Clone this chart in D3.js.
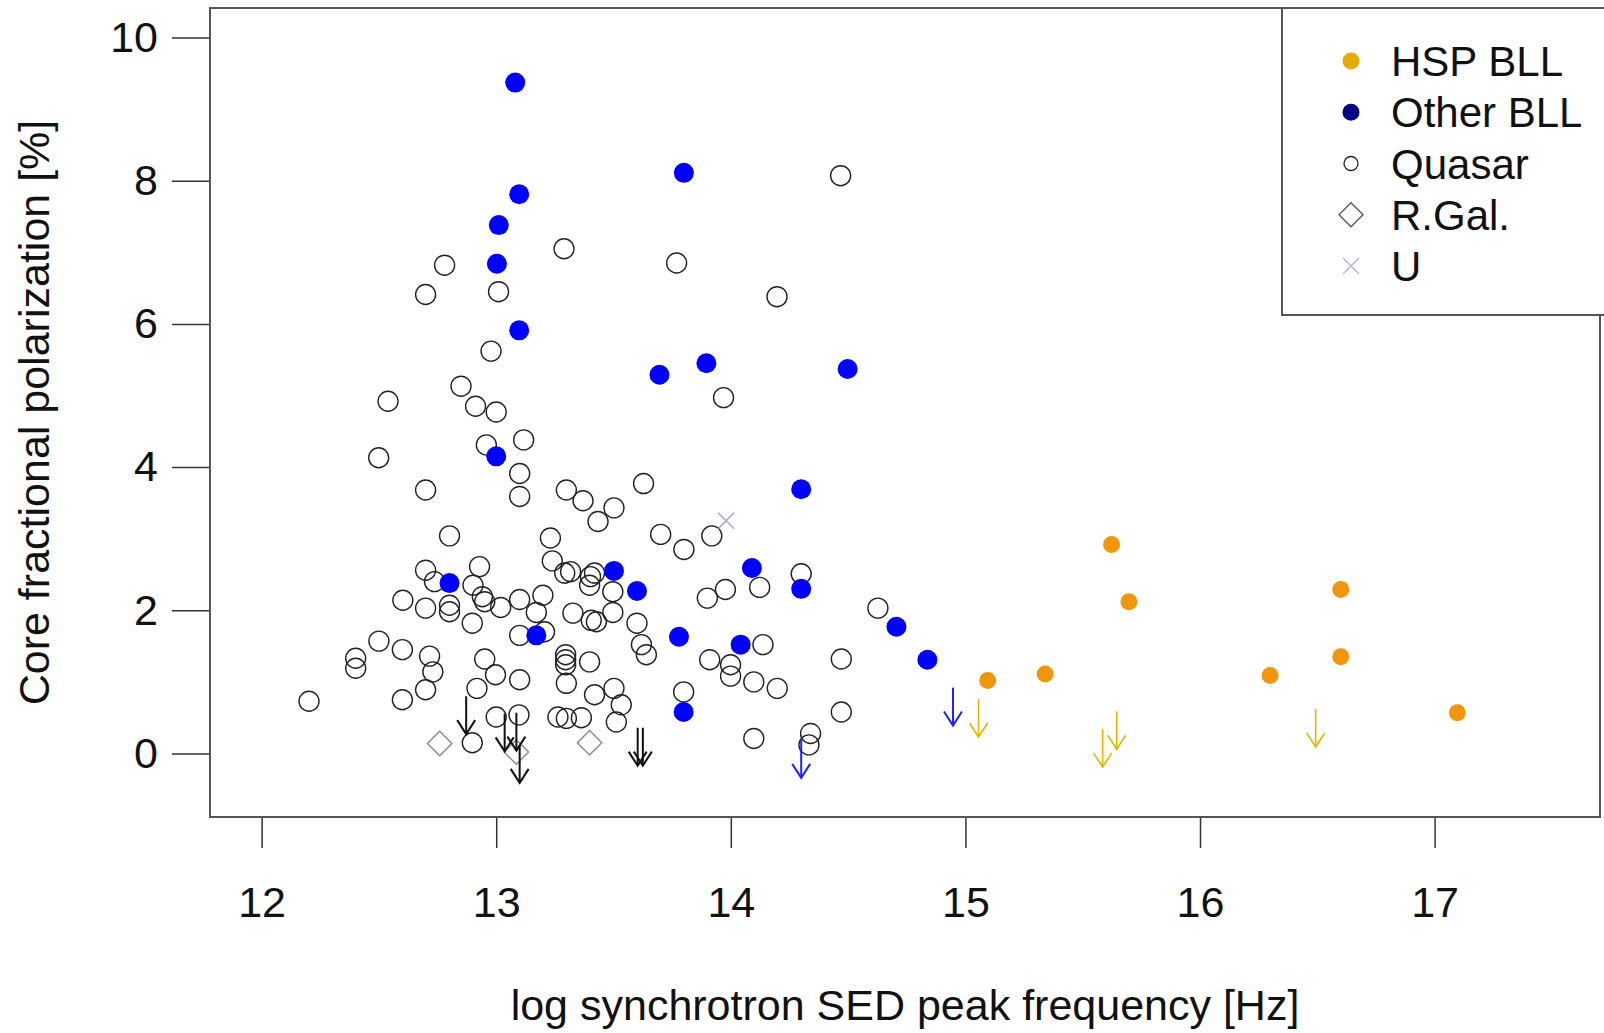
<!DOCTYPE html>
<html>
<head>
<meta charset="utf-8">
<script src="https://cdnjs.cloudflare.com/ajax/libs/d3/7.8.5/d3.min.js"></script>
<style>
  body { margin: 0; background: #fff; }
  text { font-family: "Liberation Sans", Arial, sans-serif; fill: #111; }
</style>
</head>
<body>
<div id="scatter"></div>
<script>
// Tick labels
var xTicks = [12, 13, 14, 15, 16, 17];
var yTicks = [0, 2, 4, 6, 8, 10];

// HSP BLL [log nu_peak, pol %]
var hspBLL = [
  [15.623, 2.92], [15.697, 2.12], [16.600, 2.29], [16.600, 1.35],
  [16.299, 1.09], [15.340, 1.11], [15.095, 1.02], [17.097, 0.57]
];

// Other BLL
var otherBLL = [
  [13.081, 9.37], [13.800, 8.11], [13.098, 7.81], [13.011, 7.38], [13.003, 6.84],
  [13.098, 5.91], [13.696, 5.29], [13.896, 5.45], [14.498, 5.37], [13.000, 4.15],
  [14.300, 3.69], [13.502, 2.55], [14.090, 2.59], [13.600, 2.27], [14.300, 2.30],
  [12.801, 2.38], [13.171, 1.65], [13.779, 1.63], [14.042, 1.52], [14.706, 1.77],
  [14.838, 1.31], [13.799, 0.58]
];

// Quasars
var quasar = [
  [14.468, 8.07], [13.289, 7.05], [13.769, 6.85], [12.780, 6.82], [12.699, 6.41],
  [13.010, 6.45], [14.197, 6.38], [12.978, 5.62], [13.969, 4.97], [12.539, 4.92],
  [12.850, 5.13], [12.912, 4.85], [13.000, 4.77], [13.117, 4.38], [12.958, 4.31],
  [12.499, 4.13], [13.100, 3.91], [13.100, 3.59], [12.699, 3.68], [13.299, 3.68],
  [13.370, 3.53], [13.434, 3.24], [12.801, 3.04], [13.231, 3.01], [13.239, 2.69],
  [12.929, 2.61], [12.699, 2.56], [13.292, 2.52], [13.317, 2.54], [13.419, 2.52],
  [13.628, 3.77], [13.502, 3.43], [13.701, 3.06], [13.800, 2.85], [13.919, 3.04],
  [14.300, 2.51], [12.737, 2.40], [12.901, 2.35], [12.602, 2.14], [12.699, 2.03],
  [12.801, 2.07], [12.801, 1.98], [12.941, 2.19], [12.951, 2.12], [13.019, 2.04],
  [13.100, 2.15], [13.199, 2.21], [13.171, 1.97], [13.100, 1.65], [13.206, 1.70],
  [12.898, 1.82], [13.398, 2.35], [13.327, 1.96], [13.405, 1.86], [13.427, 1.84],
  [12.500, 1.57], [12.401, 1.33], [12.401, 1.19], [12.600, 1.45], [12.716, 1.36],
  [12.730, 1.14], [12.699, 0.89], [12.600, 0.75], [12.202, 0.73], [12.951, 1.32],
  [12.997, 1.10], [13.100, 1.03], [12.918, 0.91], [13.296, 1.38], [13.296, 1.31],
  [13.296, 1.24], [13.398, 1.28], [13.299, 0.98], [13.419, 0.82], [13.000, 0.51],
  [13.097, 0.54], [12.898, 0.15], [13.263, 0.51], [13.299, 0.49], [13.363, 0.50],
  [13.497, 2.26], [13.497, 1.97], [13.600, 1.82], [13.619, 1.52], [13.640, 1.38],
  [13.502, 0.91], [13.533, 0.68], [13.512, 0.44], [13.799, 0.86], [13.900, 2.17],
  [13.977, 2.29], [14.123, 2.32], [14.137, 1.52], [13.910, 1.31], [13.999, 1.24],
  [13.999, 1.08], [14.098, 1.00], [14.198, 0.91], [14.627, 2.03], [14.471, 1.32],
  [14.471, 0.58], [14.098, 0.21], [14.340, 0.28], [14.333, 0.12], [13.402, 2.47]
];

// Radio galaxies
var radioGal = [[12.759, 0.14], [13.398, 0.15], [13.086, 0.02]];

// Unclassified
var unknown = [[13.980, 3.25]];

// Upper limits
var quasarLimits = [[12.872, 0.80], [13.036, 0.56], [13.086, 0.57], [13.100, 0.12], [13.603, 0.36], [13.625, 0.36]];
var otherLimits = [[14.300, 0.19], [14.947, 0.92]];
var hspLimits = [[15.056, 0.76], [15.585, 0.34], [15.645, 0.59], [16.493, 0.62]];

// Legend
var legendLabels = ["HSP BLL", "Other BLL", "Quasar", "R.Gal.", "U"];

// SVG area
var svgWidth = 1604;
var svgHeight = 1033;

var margin = { top: 8, right: 4, bottom: 216, left: 210 };
var chartWidth = svgWidth - margin.left - margin.right;
var chartHeight = svgHeight - margin.top - margin.bottom;

var svg = d3.select("#scatter")
  .append("svg")
  .attr("width", svgWidth)
  .attr("height", svgHeight);

var chartGroup = svg.append("g")
  .attr("transform", `translate(${margin.left}, ${margin.top})`);

// Scales
var xLinearScale = d3.scaleLinear().domain([11.78, 17.705]).range([0, chartWidth]);
var yLinearScale = d3.scaleLinear().domain([-0.887, 10.412]).range([chartHeight, 0]);

// Axes
var bottomAxis = d3.axisBottom(xLinearScale).tickValues(xTicks).tickFormat(d3.format("d"))
  .tickSize(31).tickSizeOuter(0).tickPadding(38);
var leftAxis = d3.axisLeft(yLinearScale).tickValues(yTicks).tickFormat(d3.format("d"))
  .tickSize(38).tickSizeOuter(0).tickPadding(14);

var xAxis = chartGroup.append("g")
  .attr("transform", `translate(0, ${chartHeight})`)
  .call(bottomAxis);
var yAxis = chartGroup.append("g").call(leftAxis);

[xAxis, yAxis].forEach(function(ax) {
  ax.select(".domain").remove();
  ax.selectAll("line").attr("stroke", "#333").attr("stroke-width", 1.5);
  ax.selectAll("text").attr("font-size", 43).attr("fill", "#111")
    .attr("font-family", "Liberation Sans, Arial, sans-serif");
});

// Box
chartGroup.append("rect")
  .attr("x", 0).attr("y", 0)
  .attr("width", chartWidth).attr("height", chartHeight)
  .attr("fill", "none").attr("stroke", "#555").attr("stroke-width", 2);

// Axis labels
svg.append("text")
  .attr("x", margin.left + chartWidth / 2)
  .attr("y", 1020)
  .attr("text-anchor", "middle")
  .attr("font-size", 43)
  .text("log synchrotron SED peak frequency [Hz]");

svg.append("text")
  .attr("transform", `translate(49, ${margin.top + chartHeight / 2}) rotate(-90)`)
  .attr("text-anchor", "middle")
  .attr("font-size", 43)
  .text("Core fractional polarization [%]");

// Upper limit arrows
var arrowLen = 0.53;
function drawLimits(data, color, width) {
  var g = chartGroup.append("g").attr("stroke", color).attr("stroke-width", width).attr("fill", "none");
  data.forEach(function(d) {
    var x = xLinearScale(d[0]);
    var y0 = yLinearScale(d[1]);
    var y1 = yLinearScale(d[1] - arrowLen);
    g.append("line").attr("x1", x).attr("x2", x).attr("y1", y0).attr("y2", y1);
    g.append("path").attr("d", `M${x - 9},${y1 - 14} L${x},${y1} L${x + 9},${y1 - 14}`);
  });
}

// Quasars
chartGroup.selectAll("circle.quasar")
  .data(quasar)
  .enter()
  .append("circle")
  .attr("class", "quasar")
  .attr("cx", d => xLinearScale(d[0]))
  .attr("cy", d => yLinearScale(d[1]))
  .attr("r", 10)
  .attr("fill", "none")
  .attr("stroke", "#222")
  .attr("stroke-width", 1.4);

// Radio galaxies
chartGroup.selectAll("path.rgal")
  .data(radioGal)
  .enter()
  .append("path")
  .attr("class", "rgal")
  .attr("d", d3.symbol(d3.symbolSquare, 300))
  .attr("transform", d => `translate(${xLinearScale(d[0])}, ${yLinearScale(d[1])}) rotate(45)`)
  .attr("fill", "none")
  .attr("stroke", "#8a8a8a")
  .attr("stroke-width", 1.4);

drawLimits(quasarLimits, "#111", 2);

// Other BLL
chartGroup.selectAll("circle.other")
  .data(otherBLL)
  .enter()
  .append("circle")
  .attr("class", "other")
  .attr("cx", d => xLinearScale(d[0]))
  .attr("cy", d => yLinearScale(d[1]))
  .attr("r", 10)
  .attr("fill", "#0000ff");

drawLimits(otherLimits, "#2020ff", 2);

// HSP BLL
chartGroup.selectAll("circle.hsp")
  .data(hspBLL)
  .enter()
  .append("circle")
  .attr("class", "hsp")
  .attr("cx", d => xLinearScale(d[0]))
  .attr("cy", d => yLinearScale(d[1]))
  .attr("r", 8.5)
  .attr("fill", "#f0960c");

drawLimits(hspLimits, "#e6b400", 1.6);

// Unclassified
chartGroup.selectAll("path.unk")
  .data(unknown)
  .enter()
  .append("path")
  .attr("class", "unk")
  .attr("transform", d => `translate(${xLinearScale(d[0])}, ${yLinearScale(d[1])})`)
  .attr("d", "M-8,-8L8,8M-8,8L8,-8")
  .attr("stroke", "#a0a0e8")
  .attr("stroke-width", 1.4);

// Legend
var legend = svg.append("g").attr("transform", "translate(1282, 8)");
legend.append("rect")
  .attr("x", 0).attr("y", 0)
  .attr("width", 330).attr("height", 307)
  .attr("fill", "#fff").attr("stroke", "#555").attr("stroke-width", 2);

var rowY = d3.scalePoint().domain(legendLabels).range([53, 258]);
legendLabels.forEach(function(lab, i) {
  var cy = rowY(lab);
  var sx = 69;
  if (i === 0) legend.append("circle").attr("cx", sx).attr("cy", cy).attr("r", 8.5).attr("fill", "#e8aa00");
  if (i === 1) legend.append("circle").attr("cx", sx).attr("cy", cy).attr("r", 8.5).attr("fill", "#000080");
  if (i === 2) legend.append("circle").attr("cx", sx).attr("cy", cy).attr("r", 7).attr("fill", "none").attr("stroke", "#222").attr("stroke-width", 1.3);
  if (i === 3) legend.append("path").attr("d", `M${sx},${cy - 12}L${sx + 12},${cy}L${sx},${cy + 12}L${sx - 12},${cy}Z`)
    .attr("fill", "none").attr("stroke", "#555").attr("stroke-width", 1.3);
  if (i === 4) legend.append("path").attr("d", `M${sx - 8},${cy - 8}L${sx + 8},${cy + 8}M${sx - 8},${cy + 8}L${sx + 8},${cy - 8}`)
    .attr("stroke", "#b0b0d8").attr("stroke-width", 1.3);
  legend.append("text")
    .attr("x", 109)
    .attr("y", cy + 15)
    .attr("font-size", 42)
    .text(lab);
});
</script>
</body>
</html>
